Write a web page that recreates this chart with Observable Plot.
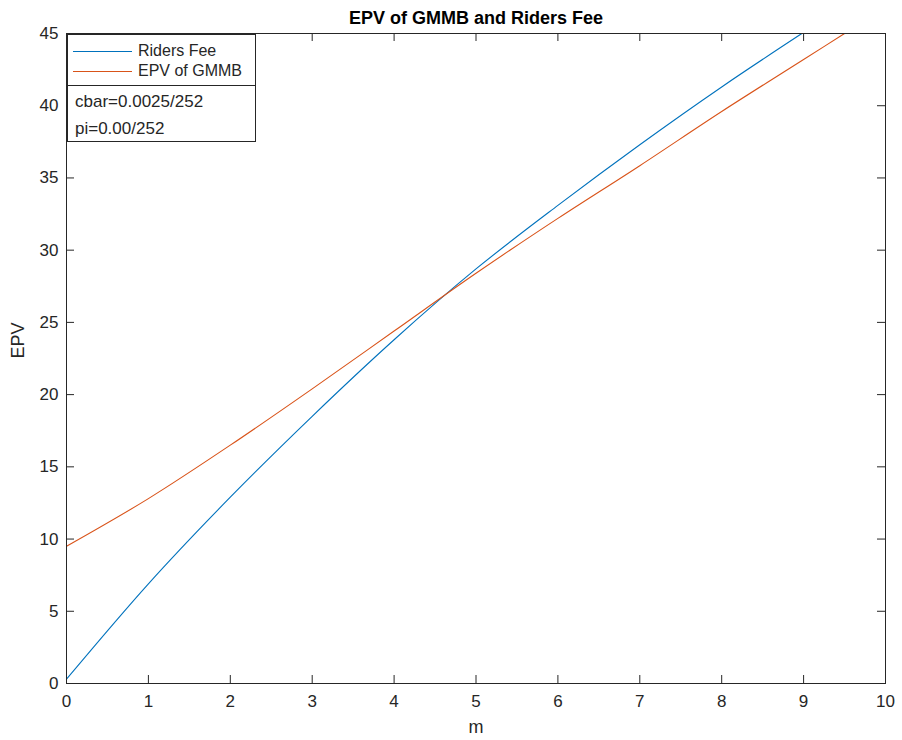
<!DOCTYPE html>
<html>
<head>
<meta charset="utf-8">
<script src="https://cdn.jsdelivr.net/npm/d3@7"></script>
<script src="https://cdn.jsdelivr.net/npm/@observablehq/plot@0.6"></script>
<style>
  html, body { margin: 0; padding: 0; background: #fff; }
  #wrap { position: relative; width: 902px; height: 740px; font-family: "Liberation Sans", Arial, sans-serif; color: #262626; }
  .lg { position: absolute; background: #fff; border: 1px solid #262626; box-sizing: border-box; }
  .row { position: absolute; left: 0; height: 20px; line-height: 20px; font-size: 16px; white-space: nowrap; }
  .sw { position: absolute; left: 5px; width: 59px; top: 10px; height: 1px; }
  .lbl { position: absolute; left: 70px; }
  .txt { position: absolute; left: 7px; font-size: 17px; line-height: 22px; white-space: nowrap; }
</style>
</head>
<body>
<div id="wrap"></div>
<script>
// Data
const ridersM   = [0, 1, 2, 3, 4, 5, 6, 7, 8, 8.98];
const ridersEPV = [0.3, 6.9, 12.9, 18.5, 23.8, 28.7, 33.1, 37.3, 41.3, 45.0];
const gmmbM     = [0, 1, 2, 3, 4, 5, 6, 7, 8, 9, 9.5];
const gmmbEPV   = [9.5, 12.8, 16.5, 20.4, 24.4, 28.4, 32.2, 35.85, 39.6, 43.2, 45.0];
const xTicks = [0, 1, 2, 3, 4, 5, 6, 7, 8, 9, 10];
const yTicks = [0, 5, 10, 15, 20, 25, 30, 35, 40, 45];
const seriesNames = ["Riders Fee", "EPV of GMMB"];
const seriesColors = ["#0072BD", "#D95319"];
const titleText = "EPV of GMMB and Riders Fee";
const xLabel = "m";
const yLabel = "EPV";
const noteLines = ["cbar=0.0025/252", "pi=0.00/252"];

const riders = ridersM.map((m, i) => ({m, v: ridersEPV[i]}));
const gmmb = gmmbM.map((m, i) => ({m, v: gmmbEPV[i]}));

const axisColor = "#262626";
const chart = Plot.plot({
  width: 902, height: 740,
  marginLeft: 66, marginRight: 17, marginTop: 33, marginBottom: 57,
  x: {domain: [0, 10]},
  y: {domain: [0, 45]},
  style: {fontFamily: "'Liberation Sans', Arial, sans-serif", fontSize: "17px", color: axisColor, background: "#fff"},
  marks: [
    Plot.line(riders, {x: "m", y: "v", stroke: seriesColors[0], strokeWidth: 1.1, curve: "monotone-x"}),
    Plot.line(gmmb, {x: "m", y: "v", stroke: seriesColors[1], strokeWidth: 1.1, curve: "monotone-x"}),
    Plot.frame({stroke: axisColor, strokeWidth: 1}),
    Plot.tickX(xTicks, {x: d => d, insetTop: 642, stroke: axisColor}),
    Plot.tickX(xTicks, {x: d => d, insetBottom: 642, stroke: axisColor}),
    Plot.tickY(yTicks, {y: d => d, insetRight: 811, stroke: axisColor}),
    Plot.tickY(yTicks, {y: d => d, insetLeft: 811, stroke: axisColor}),
    Plot.axisX(xTicks, {tickSize: 0, tickPadding: 11, label: null, fontSize: 17, fill: axisColor}),
    Plot.axisY(yTicks, {tickSize: 0, tickPadding: 8, label: null, fontSize: 17, fill: axisColor}),
    Plot.text([titleText], {frameAnchor: "top", dy: -15, lineAnchor: "middle", fontWeight: "bold", fontSize: 18, fill: "#000"}),
    Plot.text([xLabel], {frameAnchor: "bottom", dy: 44, lineAnchor: "middle", fontSize: 18, fill: axisColor}),
    Plot.text([yLabel], {frameAnchor: "left", dx: -48, rotate: -90, lineAnchor: "middle", fontSize: 18, fill: axisColor})
  ]
});

const wrap = document.getElementById("wrap");
wrap.appendChild(chart);

// Legend box
const lg = document.createElement("div");
lg.className = "lg";
Object.assign(lg.style, {left: "67px", top: "34px", width: "189px", height: "52px"});
seriesNames.forEach((name, i) => {
  const row = document.createElement("div");
  row.className = "row";
  row.style.top = (6 + i * 20) + "px";
  row.style.width = "100%";
  const sw = document.createElement("div");
  sw.className = "sw";
  sw.style.backgroundColor = seriesColors[i];
  const lb = document.createElement("div");
  lb.className = "lbl";
  lb.textContent = name;
  row.appendChild(sw); row.appendChild(lb);
  lg.appendChild(row);
});
wrap.appendChild(lg);

// Annotation box
const nb = document.createElement("div");
nb.className = "lg";
Object.assign(nb.style, {left: "67px", top: "85px", width: "189px", height: "57px"});
noteLines.forEach((t, i) => {
  const d = document.createElement("div");
  d.className = "txt";
  d.style.top = (5 + i * 27) + "px";
  d.textContent = t;
  nb.appendChild(d);
});
wrap.appendChild(nb);
</script>
</body>
</html>
